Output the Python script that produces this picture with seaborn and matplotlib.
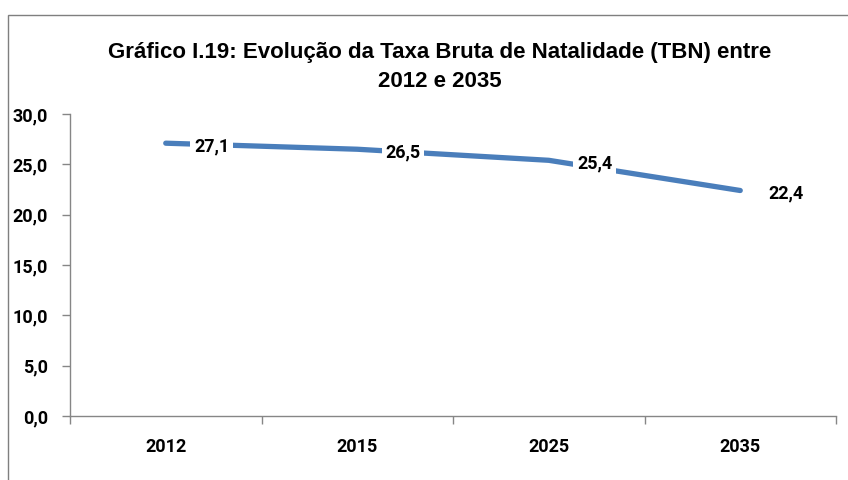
import matplotlib
matplotlib.use("Agg")
import matplotlib.pyplot as plt
import seaborn as sns
import pandas as pd
from matplotlib.patches import Rectangle

anos = ["2012", "2015", "2025", "2035"]
tbn = [27.1, 26.5, 25.4, 22.4]
yticks = [0, 5, 10, 15, 20, 25, 30]

df = pd.DataFrame({"Ano": anos, "TBN": tbn})

sns.set_theme(style="white")
plt.rcParams["font.family"] = ["Roboto", "DejaVu Sans"]
plt.rcParams["text.color"] = "black"
plt.rcParams["xtick.color"] = "#868686"
plt.rcParams["ytick.color"] = "#868686"
plt.rcParams["xtick.labelcolor"] = "black"
plt.rcParams["ytick.labelcolor"] = "black"

fig = plt.figure(figsize=(8.48, 4.8), dpi=100)
ax = fig.add_axes([70 / 848, 1 - 416 / 480, 766 / 848, 302 / 480])

sns.lineplot(data=df, x="Ano", y="TBN", ax=ax, color="#4A7EBB", linewidth=3.8,
             solid_capstyle="round", sort=False)

for i, v in enumerate(tbn):
    ax.annotate(f"{v:.1f}".replace(".", ","), (i, v), xytext=(33, -2),
                textcoords="offset points", ha="center", va="center",
                fontsize=13, fontweight="bold", color="black",
                bbox=dict(boxstyle="square,pad=0.2", fc="white", ec="none"))

ax.set_xlim(-0.5, len(anos) - 0.5)
ax.set_ylim(0, 30)
ax.set_yticks(yticks)
ax.set_yticklabels([f"{t:.1f}".replace(".", ",") for t in yticks],
                   fontsize=13, fontweight="bold")
ax.set_xticks(range(len(anos)))
ax.set_xticklabels(anos, fontsize=13, fontweight="bold")
ax.set_xticks([i - 0.5 for i in range(len(anos) + 1)], minor=True)
ax.tick_params(axis="x", which="major", length=0, pad=16)
ax.tick_params(axis="x", which="minor", length=6, width=1, direction="out", bottom=True)
ax.tick_params(axis="y", length=6, width=1, direction="out", left=True, pad=10)
ax.set_xlabel("")
ax.set_ylabel("")
for s in ["top", "right"]:
    ax.spines[s].set_visible(False)
for s in ["left", "bottom"]:
    ax.spines[s].set_color("#868686")
    ax.spines[s].set_linewidth(1)

fig.text(440 / 848, 1 - 67 / 480,
         "Gráfico I.19: Evolução da Taxa Bruta de Natalidade (TBN) entre\n2012 e 2035",
         ha="center", va="center", fontsize=16, fontweight="bold", color="black",
         family=["Liberation Sans", "DejaVu Sans"], linespacing=1.45)

fig.patches.append(Rectangle((8 / 848, -0.1), 1.2, 1.1 - 15 / 480 + 0.001,
                             transform=fig.transFigure, fill=False,
                             ec="#7f7f7f", lw=1))

fig.savefig("out.png", dpi=100)
